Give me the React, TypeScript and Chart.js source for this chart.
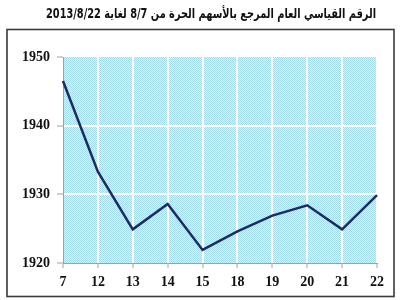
import React, { useEffect, useRef } from "react";
import { Chart, registerables } from "chart.js";

Chart.register(...registerables);

const titleText = "الرقم القياسي العام المرجع بالأسهم الحرة من 8/7 لغاية 2013/8/22";
const categories = ["7", "12", "13", "14", "15", "18", "19", "20", "21", "22"];
const indexValues = [1946.5, 1933.3, 1924.9, 1928.6, 1921.9, 1924.6, 1926.9, 1928.4, 1924.9, 1929.9];
const yMin = 1920;
const yMax = 1950;
const yStep = 10;

function makePattern(ctx: CanvasRenderingContext2D) {
  const c = document.createElement("canvas");
  c.width = 2;
  c.height = 2;
  const p = c.getContext("2d")!;
  p.fillStyle = "#dcf2f8";
  p.fillRect(0, 0, 2, 2);
  p.fillStyle = "#a2dbe9";
  p.fillRect(0, 0, 1, 1);
  p.fillRect(1, 1, 1, 1);
  return ctx.createPattern(c, "repeat");
}

const decorPlugin = {
  id: "decor",
  beforeDraw(chart: any) {
    const { ctx, chartArea } = chart;
    ctx.save();
    ctx.fillStyle = makePattern(ctx) || "#b3e2ed";
    ctx.fillRect(chartArea.left, chartArea.top, chartArea.right - chartArea.left, chartArea.bottom - chartArea.top);
    ctx.restore();
  },
  afterDraw(chart: any) {
    const { ctx } = chart;
    ctx.save();
    ctx.strokeStyle = "#3a3a3a";
    ctx.lineWidth = 1.6;
    ctx.strokeRect(7, 29.5, 387, 267);
    ctx.direction = "rtl";
    ctx.textAlign = "center";
    ctx.textBaseline = "middle";
    ctx.fillStyle = "#111";
    ctx.font = "bold 13.5px 'DejaVu Sans', sans-serif";
    const w = ctx.measureText(titleText).width;
    const target = 330;
    const sx = w > target ? target / w : 1;
    ctx.translate(211, 14);
    ctx.scale(sx, 1);
    ctx.fillText(titleText, 0, 0);
    ctx.restore();
  },
};

export default function App() {
  const ref = useRef<HTMLCanvasElement>(null);
  useEffect(() => {
    const chart = new Chart(ref.current!, {
      type: "line",
      data: {
        labels: categories,
        datasets: [
          {
            data: indexValues,
            borderColor: "#1c2a68",
            borderWidth: 2.5,
            pointRadius: 0,
            tension: 0,
            fill: false,
          },
        ],
      },
      options: {
        animation: false,
        responsive: false,
        layout: { padding: { top: 57, left: 0, right: 23, bottom: 0 } },
        plugins: { legend: { display: false }, title: { display: false }, tooltip: { enabled: false } },
        scales: {
          x: {
            offset: false,
            afterFit: (s: any) => {
              s.height = 37;
            },
            border: { display: true, color: "#a0a0a0", width: 1 },
            grid: {
              color: (c: any) => (c.index === 0 ? "rgba(0,0,0,0)" : "#ffffff"),
              lineWidth: 2,
              drawTicks: true,
              tickLength: 5,
              tickColor: "#b0a0a0",
              tickWidth: 1,
            },
            ticks: {
              color: "#111",
              padding: 6,
              maxRotation: 0,
              autoSkip: false,
              font: { family: "'Liberation Serif', serif", size: 14, weight: "bold" },
            },
          },
          y: {
            min: yMin,
            max: yMax,
            afterFit: (s: any) => {
              s.width = 63;
            },
            border: { display: true, color: "#a0a0a0", width: 1 },
            grid: {
              color: (c: any) =>
                c.tick && c.tick.value > yMin && c.tick.value < yMax ? "#ffffff" : "rgba(0,0,0,0)",
              lineWidth: 2,
              drawTicks: true,
              tickLength: 6,
              tickColor: "#a0a0a0",
              tickWidth: 1,
            },
            ticks: {
              stepSize: yStep,
              color: "#111",
              padding: 7,
              callback: (v: any) => String(v),
              font: { family: "'Liberation Serif', serif", size: 14, weight: "bold" },
            },
          },
        },
      },
      plugins: [decorPlugin],
    });
    return () => chart.destroy();
  }, []);
  return (
    <div style={{ position: "absolute", left: 0, top: 0, width: 400, height: 300 }}>
      <canvas ref={ref} width={400} height={300} style={{ display: "block" }} />
    </div>
  );
}
